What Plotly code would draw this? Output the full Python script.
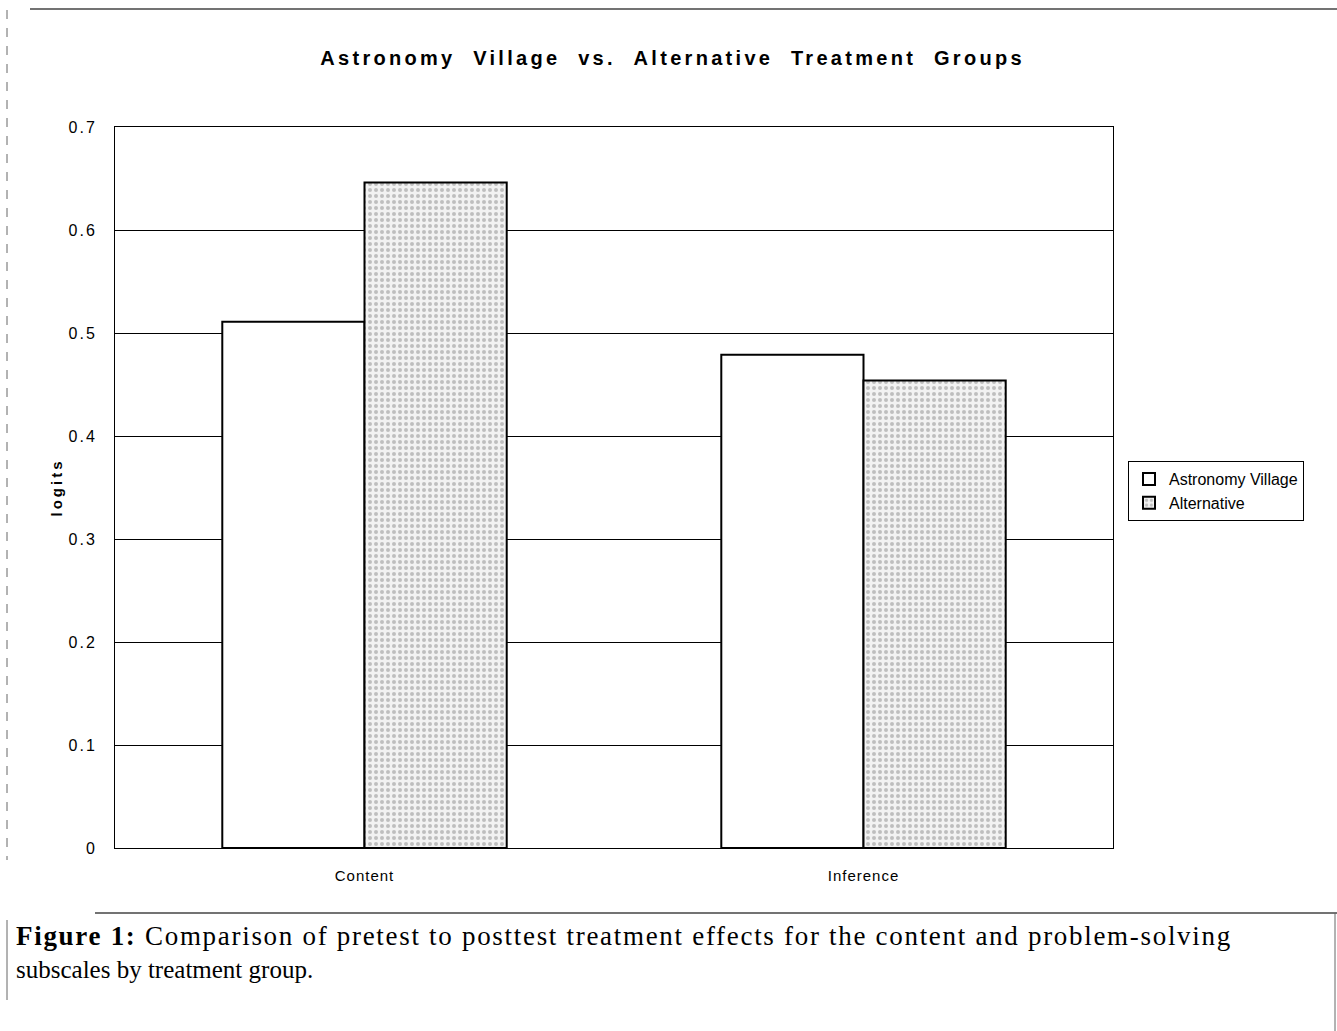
import plotly.graph_objects as go

categories = ["Content", "Inference"]
series_names = ["Astronomy Village", "Alternative"]
astronomy_village = [0.511, 0.479]
alternative = [0.646, 0.454]
y_ticks = [0, 0.1, 0.2, 0.3, 0.4, 0.5, 0.6, 0.7]
y_tick_labels = ["0", "0.1", "0.2", "0.3", "0.4", "0.5", "0.6", "0.7"]

W, H = 1337, 1031
L, R, T, B = 115, 1113, 127, 848

fig = go.Figure()
fig.add_trace(go.Bar(
    x=categories, y=astronomy_village, name=series_names[0],
    marker=dict(color="white", line=dict(color="black", width=2)),
))
fig.add_trace(go.Bar(
    x=categories, y=alternative, name=series_names[1],
    marker=dict(color="#f4f4f4", line=dict(color="black", width=2),
                pattern=dict(shape=".", fgcolor="#8a8a8a", bgcolor="#f2f2f2",
                             size=6, solidity=0.35)),
))

sp = "\u00a0"
title = (sp * 2).join(["Astronomy", "Village", "vs.", "Alternative", "Treatment", "Groups"])

fig.update_layout(
    width=W, height=H,
    margin=dict(l=L, r=W - R, t=T, b=H - B, autoexpand=False),
    paper_bgcolor="white", plot_bgcolor="white",
    barmode="group", bargap=0.43, bargroupgap=0,
    font=dict(family="Liberation Sans, Arial", color="black", size=15),
    showlegend=True,
    legend=dict(x=(1128 - L) / (R - L), y=(B - 461) / (B - T), xanchor="left", yanchor="top",
                bordercolor="black", borderwidth=1, bgcolor="white",
                font=dict(size=16), itemwidth=30, tracegroupgap=2),
    xaxis=dict(showline=True, linecolor="black", linewidth=1, ticks="",
               tickfont=dict(size=15), mirror=True, ticklabelstandoff=14),
    yaxis=dict(range=[0, 0.7], tickvals=y_ticks, ticktext=y_tick_labels,
               showgrid=True, gridcolor="black", gridwidth=1,
               showline=True, linecolor="black", linewidth=1, mirror=True,
               ticks="", tickfont=dict(size=16), ticklabelstandoff=14,
               title=dict(text="<b>logits</b>", font=dict(size=15), standoff=8)),
)

fig.add_annotation(xref="paper", yref="paper", x=(672 - L) / (R - L), y=(B - 58) / (B - T),
                   text=f"<b>{title}</b>", showarrow=False, font=dict(size=20),
                   xanchor="center", yanchor="middle")

def px_x(v):
    return (v - L) / (R - L)

def px_y(v):
    return (B - v) / (B - T)

# caption
fig.add_annotation(xref="paper", yref="paper", x=px_x(14), y=px_y(936),
                   text="<b>Figure 1:</b> Comparison of pretest to posttest treatment effects for the content and problem-solving",
                   showarrow=False, xanchor="left", yanchor="middle", align="left",
                   font=dict(family="Liberation Serif, Times New Roman", size=27))
fig.add_annotation(xref="paper", yref="paper", x=px_x(14), y=px_y(969),
                   text="subscales by treatment group.",
                   showarrow=False, xanchor="left", yanchor="middle", align="left",
                   font=dict(family="Liberation Serif, Times New Roman", size=25))

# frame lines of the scanned figure
fig.add_shape(type="line", xref="paper", yref="paper", x0=px_x(30), x1=px_x(1337), y0=px_y(9), y1=px_y(9),
              line=dict(color="#444", width=1.5))
fig.add_shape(type="line", xref="paper", yref="paper", x0=px_x(95), x1=px_x(1337), y0=px_y(913), y1=px_y(913),
              line=dict(color="#444", width=1.5))
fig.add_shape(type="line", xref="paper", yref="paper", x0=px_x(7), x1=px_x(7), y0=px_y(10), y1=px_y(860),
              line=dict(color="#666", width=1, dash="dash"))
fig.add_shape(type="line", xref="paper", yref="paper", x0=px_x(7), x1=px_x(7), y0=px_y(920), y1=px_y(1000),
              line=dict(color="#666", width=1))
fig.add_shape(type="line", xref="paper", yref="paper", x0=px_x(1335), x1=px_x(1335), y0=px_y(913), y1=px_y(1031),
              line=dict(color="#666", width=1))

post = """
document.body.style.margin = '0';
function sp(sel, v, test) {
  document.querySelectorAll(sel).forEach(function (el) {
    if (!test || el.textContent.indexOf(test) >= 0) { el.style.letterSpacing = v; }
  });
}
sp('.annotation-text', '3.3px', 'Astronomy');
sp('.annotation-text', '1.7px', 'Comparison');
sp('.ytick text', '2px');
sp('.xtick text', '1px');
sp('.g-ytitle text', '3px');
"""

fig.write_html("out.html", post_script=post, config={"displayModeBar": False})
